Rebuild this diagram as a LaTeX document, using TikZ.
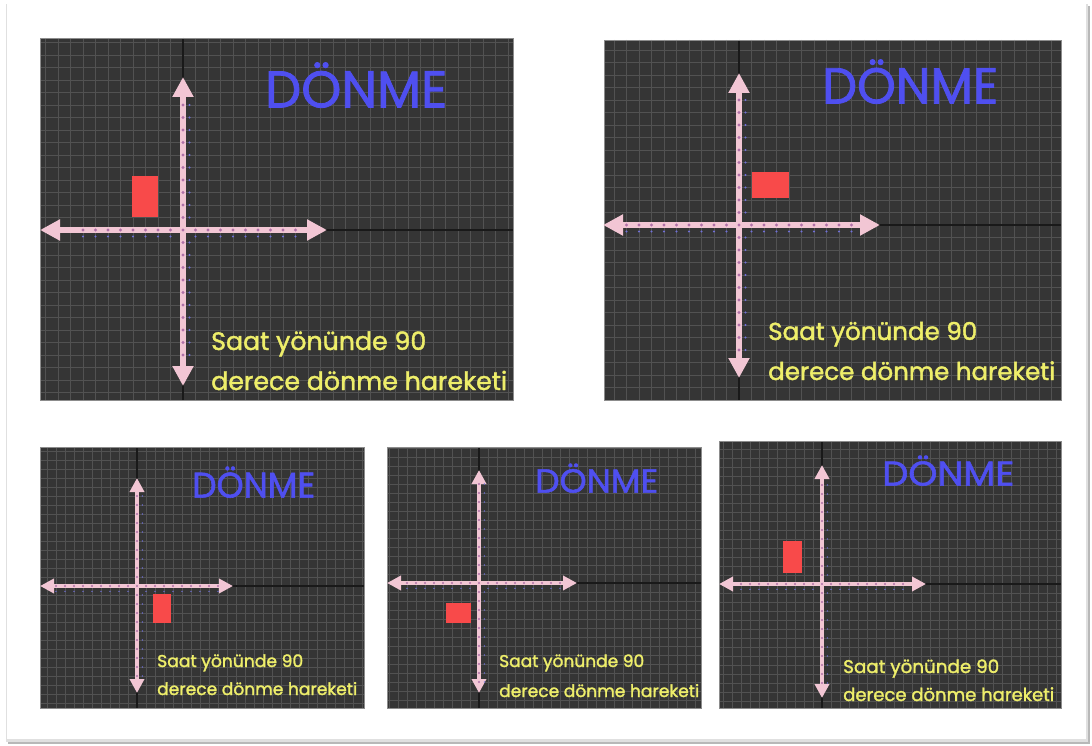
\documentclass[tikz,border=0pt]{standalone}
\usepackage{graphicx}
\usepackage{fontspec}
\setmainfont{Poppins}
\newfontfamily\cfont{Poppins}[FakeBold=1.6]
\usetikzlibrary{arrows.meta}
\definecolor{panelbg}{HTML}{353535}
\definecolor{gridc}{HTML}{525252}
\definecolor{pinkc}{HTML}{F2C6D4}
\definecolor{redc}{HTML}{F84A4A}
\definecolor{bluec}{HTML}{4F4FF0}
\definecolor{yellowc}{HTML}{EEEE6A}
\definecolor{tickc}{HTML}{B070A8}
\definecolor{labc}{HTML}{7070D8}
\tikzset{
  gridline/.style={draw=gridc,line width=0.6pt},
  bgaxis/.style={draw=black!90,line width=1.2pt},
  panelborder/.style={draw=black!45,line width=0.6pt},
  bigaxis/.style={draw=pinkc,line width=6pt,{Triangle[width=20pt,length=20pt]}-{Triangle[width=20pt,length=20pt]}},
  smallaxis/.style={draw=pinkc,line width=4pt,{Triangle[width=14pt,length=14pt]}-{Triangle[width=14pt,length=14pt]}},
  redbox/.style={fill=redc,draw=none},
  title/.style={text=bluec,inner sep=0pt,anchor=south west,font=\cfont},
  txt/.style={text=yellowc,inner sep=0pt,anchor=base west,font=\cfont},
  tickdot/.style={fill=tickc},
  ticklab/.style={fill=labc},
}
% #1 x0 #2 y0 #3 x1 #4 y1 #5 axis x #6 axis y #7 step
\newcommand\drawpanel[7]{%
  \fill[panelbg] (#1,#2) rectangle (#3,#4);
  \begin{scope}
    \clip (#1,#2) rectangle (#3,#4);
    \foreach \k in {-32,...,32}{
      \draw[gridline] ({#5+\k*#7},#2) -- ({#5+\k*#7},#4);
      \draw[gridline] (#1,{#6+\k*#7}) -- (#3,{#6+\k*#7});
    }
    \draw[bgaxis] (#5,#2) -- (#5,#4);
    \draw[bgaxis] (#1,#6) -- (#3,#6);
  \end{scope}
  \draw[panelborder] (#1,#2) rectangle (#3,#4);
}
% #1 ax #2 ay #3 step #4 nleft #5 nright #6 nup #7 ndown #8 dot radius
\newcommand\drawticks[8]{%
  \foreach \k in {1,...,#4}{
    \fill[tickdot] ({#1-\k*#3},#2) circle (#8);
    \fill[ticklab] ({#1-\k*#3},{#2+2.2*#8+3}) circle ({0.7*#8});}
  \foreach \k in {1,...,#5}{
    \fill[tickdot] ({#1+\k*#3},#2) circle (#8);
    \fill[ticklab] ({#1+\k*#3},{#2+2.2*#8+3}) circle ({0.7*#8});}
  \foreach \k in {1,...,#6}{
    \fill[tickdot] (#1,{#2-\k*#3}) circle (#8);
    \fill[ticklab] ({#1+2.2*#8+3},{#2-\k*#3}) circle ({0.7*#8});}
  \foreach \k in {1,...,#7}{
    \fill[tickdot] (#1,{#2+\k*#3}) circle (#8);
    \fill[ticklab] ({#1+2.2*#8+3},{#2+\k*#3}) circle ({0.7*#8});}
  \fill[tickdot] (#1,#2) circle (#8);
}
\begin{document}
\begin{tikzpicture}[x=1pt,y=-1pt]
\useasboundingbox (0,0) rectangle (1092,746);
\fill[white] (0,0) rectangle (1092,746);
% card with shadow
\fill[black!28] (8,6) rectangle (1090,744);
\fill[black!12] (6,4) rectangle (1088,742);
\fill[white] (7,3) rectangle (1086,739);

% ---------- Panel 1 ----------
\drawpanel{40}{38}{513}{400}{183}{230}{12.5}
\coordinate (p1T) at (183,77);
\coordinate (p1B) at (183,386);
\coordinate (p1L) at (40,230);
\coordinate (p1R) at (327,230);
\draw[bigaxis] (p1L) -- (p1R);
\draw[bigaxis] (p1T) -- (p1B);
\drawticks{183}{230}{12.5}{8}{9}{10}{10}{1.6}
\fill[redbox] (132,176) rectangle (158,217);
\node[title] (t1) at (265,108) {\resizebox{182pt}{45pt}{DÖNME}};
\node[txt] (a1) at (211,350) {\resizebox{215pt}{!}{Saat yönünde 90}};
\node[txt] (b1) at (211,390) {\resizebox{296pt}{!}{derece dönme hareketi}};

% ---------- Panel 2 ----------
\drawpanel{604}{40}{1061}{400}{739}{225}{12.5}
\coordinate (p2T) at (739,73);
\coordinate (p2B) at (739,378);
\coordinate (p2L) at (603,225);
\coordinate (p2R) at (880,225);
\draw[bigaxis] (p2L) -- (p2R);
\draw[bigaxis] (p2T) -- (p2B);
\drawticks{739}{225}{12.5}{9}{9}{10}{10}{1.6}
\fill[redbox] (752,172) rectangle (789,198);
\node[title] (t2) at (822,104) {\resizebox{176pt}{44pt}{DÖNME}};
\node[txt] (a2) at (768,340) {\resizebox{209pt}{!}{Saat yönünde 90}};
\node[txt] (b2) at (768,380) {\resizebox{287pt}{!}{derece dönme hareketi}};

% ---------- Panel 3 ----------
\drawpanel{40}{447}{364}{708}{137}{586}{9}
\coordinate (p3T) at (137,478);
\coordinate (p3B) at (137,693);
\coordinate (p3L) at (40,586);
\coordinate (p3R) at (233,586);
\draw[smallaxis] (p3L) -- (p3R);
\draw[smallaxis] (p3T) -- (p3B);
\drawticks{137}{586}{9}{9}{9}{10}{10}{1.1}
\fill[redbox] (153,594) rectangle (171,623);
\node[title] (t3) at (192,498) {\resizebox{123pt}{31pt}{DÖNME}};
\node[txt] (a3) at (157,667) {\resizebox{146pt}{!}{Saat yönünde 90}};
\node[txt] (b3) at (157,695) {\resizebox{200pt}{!}{derece dönme hareketi}};

% ---------- Panel 4 ----------
\drawpanel{387}{447}{701}{708}{479}{583}{9}
\coordinate (p4T) at (479,470);
\coordinate (p4B) at (479,693);
\coordinate (p4L) at (387,583);
\coordinate (p4R) at (577,583);
\draw[smallaxis] (p4L) -- (p4R);
\draw[smallaxis] (p4T) -- (p4B);
\drawticks{479}{583}{9}{8}{9}{11}{11}{1.1}
\fill[redbox] (446,603) rectangle (471,623);
\node[title] (t4) at (535,493) {\resizebox{123pt}{29pt}{DÖNME}};
\node[txt] (a4) at (499,667) {\resizebox{145pt}{!}{Saat yönünde 90}};
\node[txt] (b4) at (499,697) {\resizebox{200pt}{!}{derece dönme hareketi}};

% ---------- Panel 5 ----------
\drawpanel{719}{441}{1061}{708}{822}{584}{9}
\coordinate (p5T) at (822,465);
\coordinate (p5B) at (822,698);
\coordinate (p5L) at (719,584);
\coordinate (p5R) at (926,584);
\draw[smallaxis] (p5L) -- (p5R);
\draw[smallaxis] (p5T) -- (p5B);
\drawticks{822}{584}{9}{9}{9}{11}{11}{1.1}
\fill[redbox] (783,541) rectangle (802,573);
\node[title] (t5) at (882,486) {\resizebox{132pt}{30pt}{DÖNME}};
\node[txt] (a5) at (843,673) {\resizebox{156pt}{!}{Saat yönünde 90}};
\node[txt] (b5) at (843,701) {\resizebox{211pt}{!}{derece dönme hareketi}};
\end{tikzpicture}
\end{document}
